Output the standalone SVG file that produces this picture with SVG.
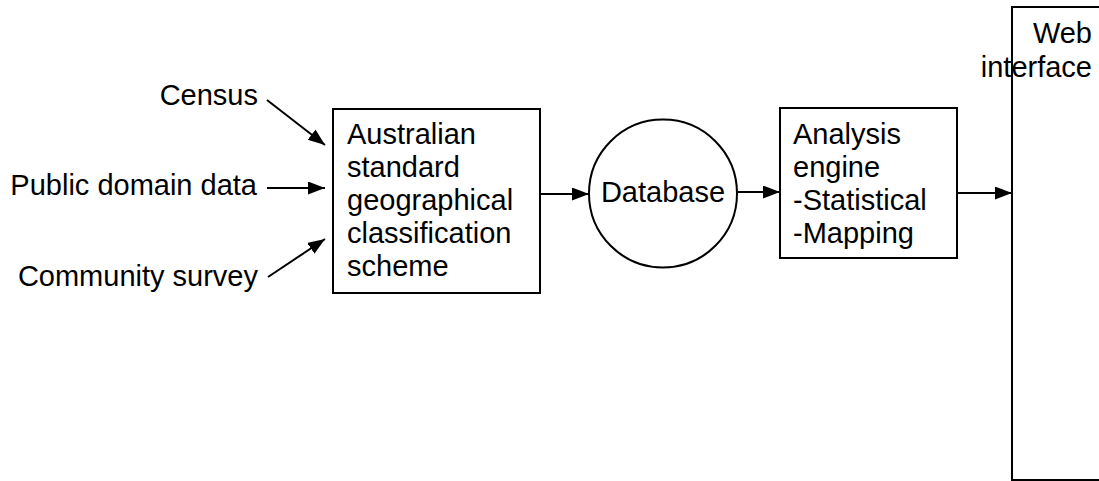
<svg xmlns="http://www.w3.org/2000/svg" width="1099" height="481" viewBox="0 0 1099 481">
<style>
.t{font-family:"Liberation Sans",Arial,sans-serif;font-size:29px;fill:#000}
.b{fill:#fff;stroke:#000;stroke-width:2}
.c{stroke:#000;stroke-width:2;fill:none}
</style>
<defs>
<marker id="ah" markerUnits="userSpaceOnUse" markerWidth="18" markerHeight="14" refX="17" refY="6.5" orient="auto">
<path d="M0,0 L17,6.5 L0,13 z" fill="#000"/>
</marker>
</defs>
<rect width="1099" height="481" fill="#fff"/>
<g id="census"><text class="t" x="258" y="105" text-anchor="end">Census</text></g>
<g id="public"><text class="t" x="257" y="195" text-anchor="end">Public domain data</text></g>
<g id="community"><text class="t" x="258" y="286" text-anchor="end">Community survey</text></g>
<g id="asgc">
<rect class="b" x="333" y="109" width="207" height="184"/>
<text class="t" x="347" y="144">Australian</text>
<text class="t" x="347" y="177">standard</text>
<text class="t" x="347" y="210">geographical</text>
<text class="t" x="347" y="243">classification</text>
<text class="t" x="347" y="276">scheme</text>
</g>
<g id="database">
<circle class="b" cx="663" cy="193.5" r="74"/>
<text class="t" x="663" y="202" text-anchor="middle">Database</text>
</g>
<g id="analysis">
<rect class="b" x="780" y="108" width="177" height="150"/>
<text class="t" x="793" y="144">Analysis</text>
<text class="t" x="793" y="177">engine</text>
<text class="t" x="793" y="210">-Statistical</text>
<text class="t" x="793" y="243">-Mapping</text>
</g>
<g id="web">
<rect class="c" x="1012" y="7" width="120" height="473"/>
<text class="t" x="1092" y="43" text-anchor="end">Web</text>
<text class="t" x="1092" y="77" text-anchor="end">interface</text>
</g>
<g id="connectors">
<line class="c" x1="267" y1="100" x2="325" y2="145" marker-end="url(#ah)"/>
<line class="c" x1="267" y1="188" x2="325" y2="188" marker-end="url(#ah)"/>
<line class="c" x1="268" y1="277" x2="325" y2="239" marker-end="url(#ah)"/>
<line class="c" x1="540" y1="194" x2="589" y2="194" marker-end="url(#ah)"/>
<line class="c" x1="738" y1="192" x2="780" y2="192" marker-end="url(#ah)"/>
<line class="c" x1="957" y1="193" x2="1012" y2="193" marker-end="url(#ah)"/>
</g>
</svg>
